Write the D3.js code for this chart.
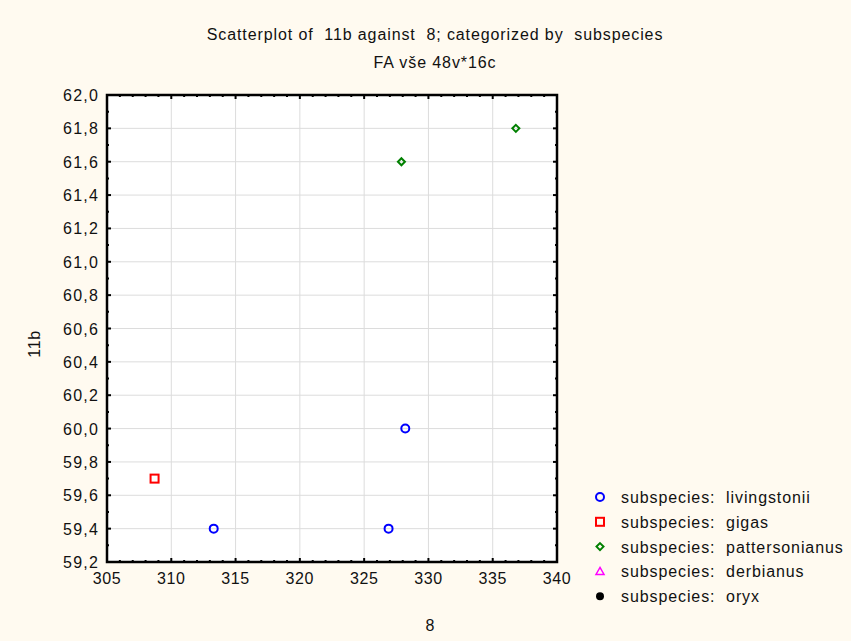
<!DOCTYPE html>
<html>
<head>
<meta charset="utf-8">
<script src="https://cdn.jsdelivr.net/npm/d3@7"></script>
<style>
body{margin:0;background:#fffaf0;}
svg text{font-family:"Liberation Sans",Arial,sans-serif;fill:#111;white-space:pre;}
</style>
</head>
<body>
<div id="chart"></div>
<script>
var groups=["livingstonii","gigas","pattersonianus","derbianus","oryx"];
var groupColor=["#0000ff","#ff0000","#008000","#ff00ff","#000000"];
var xValues=[
  [313.3,326.9,328.2],
  [308.7],
  [327.9,336.8],
  [],
  []
];
var yValues=[
  [59.4,59.4,60.0],
  [59.7],
  [61.6,61.8],
  [],
  []
];
var xTicks=[305,310,315,320,325,330,335,340];
var yTicks=[59.2,59.4,59.6,59.8,60.0,60.2,60.4,60.6,60.8,61.0,61.2,61.4,61.6,61.8,62.0];

var W=851,H=641;
var pL=107,pT=95,pR=557,pB=562;

var svg=d3.select("#chart").append("svg").attr("width",W).attr("height",H);
svg.append("rect").attr("width",W).attr("height",H).attr("fill","#fffaf0");

var x=d3.scaleLinear().domain([305,340]).range([pL,pR]);
var y=d3.scaleLinear().domain([59.2,62.0]).range([pB,pT]);

svg.append("rect").attr("x",pL).attr("y",pT).attr("width",pR-pL).attr("height",pB-pT).attr("fill","#fff");

// grid
svg.selectAll(".gx").data(xTicks.slice(1,-1)).enter().append("line")
  .attr("x1",d=>x(d)).attr("x2",d=>x(d)).attr("y1",pT).attr("y2",pB)
  .attr("stroke","#dcdcdc").attr("stroke-width",1);
svg.selectAll(".gy").data(yTicks.slice(1,-1)).enter().append("line")
  .attr("y1",d=>y(d)).attr("y2",d=>y(d)).attr("x1",pL).attr("x2",pR)
  .attr("stroke","#dcdcdc").attr("stroke-width",1);

// ticks (inward, on all four sides)
var fmt=d=>d.toFixed(1).replace(".",",");
var xMinor=d3.range(306,340,1).filter(v=>v%5!=0);
var yMinor=d3.range(0,14).map(i=>59.3+i*0.2);
function xTickLines(vals,len){
  svg.selectAll(null).data(vals).enter().append("line")
    .attr("x1",d=>x(d)).attr("x2",d=>x(d)).attr("y1",pB).attr("y2",pB-len)
    .attr("stroke","#000").attr("stroke-width",2);
  svg.selectAll(null).data(vals).enter().append("line")
    .attr("x1",d=>x(d)).attr("x2",d=>x(d)).attr("y1",pT).attr("y2",pT+len)
    .attr("stroke","#000").attr("stroke-width",2);
}
function yTickLines(vals,len){
  svg.selectAll(null).data(vals).enter().append("line")
    .attr("y1",d=>y(d)).attr("y2",d=>y(d)).attr("x1",pL).attr("x2",pL+len)
    .attr("stroke","#000").attr("stroke-width",2);
  svg.selectAll(null).data(vals).enter().append("line")
    .attr("y1",d=>y(d)).attr("y2",d=>y(d)).attr("x1",pR).attr("x2",pR-len)
    .attr("stroke","#000").attr("stroke-width",2);
}
xTickLines(xTicks,4);
xTickLines(xMinor,2);
yTickLines(yTicks,4);
yTickLines(yMinor,2);

svg.append("rect").attr("x",pL).attr("y",pT).attr("width",pR-pL).attr("height",pB-pT)
  .attr("fill","none").attr("stroke","#000").attr("stroke-width",2.5);

// tick labels
svg.selectAll(".xl").data(xTicks).enter().append("text")
  .attr("x",d=>x(d)).attr("y",pB+22).attr("text-anchor","middle")
  .attr("font-size",16).attr("letter-spacing",0.6).text(d=>d);
svg.selectAll(".yl").data(yTicks).enter().append("text")
  .attr("x",pL-8).attr("y",d=>y(d)+6).attr("text-anchor","end")
  .attr("font-size",16).attr("letter-spacing",1.2).text(fmt);

// titles
svg.append("text").attr("x",435).attr("y",40).attr("text-anchor","middle")
  .attr("font-size",16).attr("letter-spacing",0.9).text("Scatterplot of  11b against  8; categorized by  subspecies");
svg.append("text").attr("x",435).attr("y",68).attr("text-anchor","middle")
  .attr("font-size",16).attr("letter-spacing",0.9).text("FA vše 48v*16c");
svg.append("text").attr("x",430).attr("y",631).attr("text-anchor","middle")
  .attr("font-size",16).text("8");
svg.append("text").attr("transform","translate(40,344) rotate(-90)").attr("text-anchor","middle")
  .attr("font-size",16).attr("letter-spacing",0.6).text("11b");

// markers
function marker(g,i,cx,cy){
  var c=groupColor[i];
  if(i==0) g.append("circle").attr("cx",cx).attr("cy",cy).attr("r",4).attr("fill","none").attr("stroke",c).attr("stroke-width",2);
  else if(i==1) g.append("rect").attr("x",cx-4).attr("y",cy-4).attr("width",8).attr("height",8).attr("fill","none").attr("stroke",c).attr("stroke-width",2);
  else if(i==2) g.append("path").attr("d",`M${cx},${cy-3.5}L${cx+3.5},${cy}L${cx},${cy+3.5}L${cx-3.5},${cy}Z`).attr("fill","none").attr("stroke",c).attr("stroke-width",2);
  else if(i==3) g.append("path").attr("d",`M${cx},${cy-4}L${cx+4},${cy+3}L${cx-4},${cy+3}Z`).attr("fill","none").attr("stroke",c).attr("stroke-width",1.5);
  else g.append("circle").attr("cx",cx).attr("cy",cy).attr("r",4).attr("fill",c);
}
var pts=svg.append("g");
groups.forEach(function(gname,i){
  xValues[i].forEach(function(xv,j){ marker(pts,i,x(xv),y(yValues[i][j])); });
});

// legend
var leg=svg.append("g");
groups.forEach(function(gname,i){
  var ly=497+i*24.8;
  marker(leg,i,600,ly);
  leg.append("text").attr("x",621).attr("y",ly+6).attr("font-size",16).attr("letter-spacing",0.9)
    .text("subspecies:  "+gname);
});
</script>
</body>
</html>
